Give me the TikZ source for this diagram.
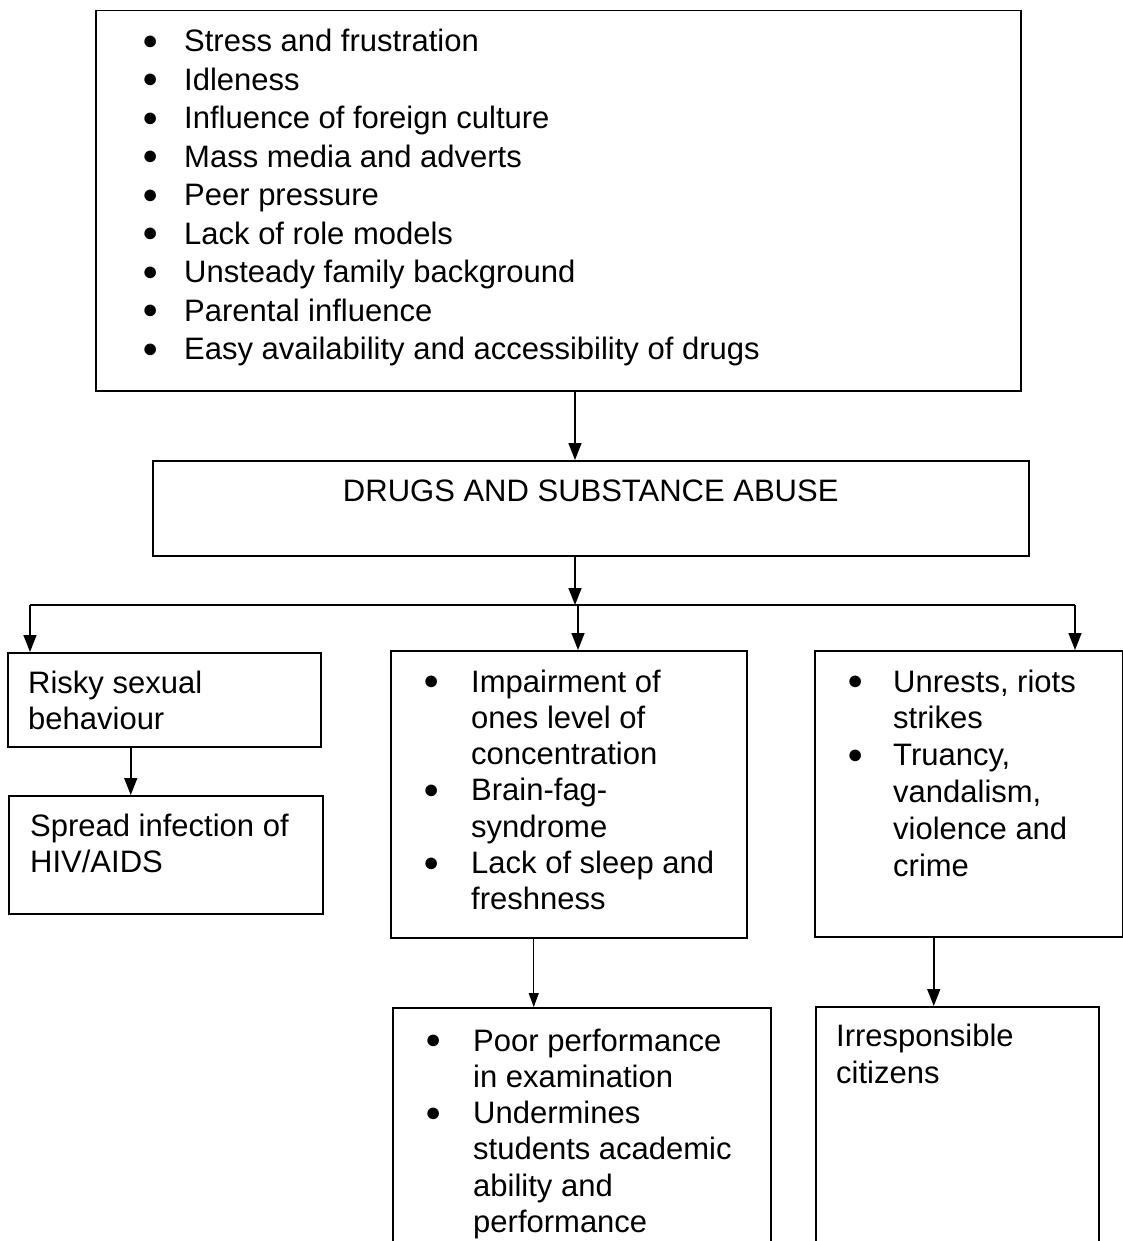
\documentclass[tikz,border=0pt]{standalone}
\usepackage{fontspec}
\setmainfont{Liberation Sans}
\usetikzlibrary{arrows.meta}

\tikzset{
  box/.style={draw, line width=1.5pt, inner sep=0pt, anchor=north west},
  arr/.style={-{Triangle[width=13pt,length=17pt]}, line width=1.5pt},
  txt/.style={inner sep=0pt, anchor=base west, align=left},
  big/.style={font=\fontsize{31}{38.5}\selectfont},
  small/.style={font=\fontsize{31}{36.3}\selectfont}
}
\newcommand{\bul}{\raisebox{2.5pt}{\fontsize{27}{27}\selectfont ●}}

\begin{document}
\begin{tikzpicture}[x=1pt,y=-1pt]
\useasboundingbox (0,0) rectangle (1123,1241);
\clip (0,0) rectangle (1123,1241);

% boxes
\node[box, minimum width=925pt, minimum height=380pt] (causes) at (95,10) {};
\node[box, minimum width=876pt, minimum height=95pt] (drugs) at (152,460) {};
\node[box, minimum width=313pt, minimum height=94pt] (risky) at (7,652) {};
\node[box, minimum width=314pt, minimum height=118pt] (hiv) at (8,795) {};
\node[box, minimum width=356pt, minimum height=287pt] (impair) at (390,650) {};
\node[box, minimum width=378pt, minimum height=260pt] (poor) at (392,1007) {};
\node[box, minimum width=308pt, minimum height=286pt] (unrest) at (814,650) {};
\node[box, minimum width=283pt, minimum height=260pt] (citizen) at (815,1006) {};

% texts
\node[txt, big] (causelist) at (142,52) {\begin{tabular}[t]{@{}p{42pt}@{}l@{}}
\bul & Stress and frustration\\
\bul & Idleness\\
\bul & Influence of foreign culture\\
\bul & Mass media and adverts\\
\bul & Peer pressure\\
\bul & Lack of role models\\
\bul & Unsteady family background\\
\bul & Parental influence\\
\bul & Easy availability and accessibility of drugs
\end{tabular}};
\node[txt, big, anchor=base] (drugstxt) at ([yshift=-41pt]drugs.north) {DRUGS AND SUBSTANCE ABUSE};
\node[txt, small] (riskytxt) at (28,693) {\begin{tabular}[t]{@{}l@{}}
Risky sexual\\
behaviour
\end{tabular}};
\node[txt, small] (hivtxt) at (30,836) {\begin{tabular}[t]{@{}l@{}}
Spread infection of\\
HIV/AIDS
\end{tabular}};
\node[txt, small] (impairtxt) at (423,692) {\begin{tabular}[t]{@{}p{48pt}@{}l@{}}
\bul & Impairment of\\
     & ones level of\\
     & concentration\\
\bul & Brain-fag-\\
     & syndrome\\
\bul & Lack of sleep and\\
     & freshness
\end{tabular}};
\node[txt, small] (poortxt) at (425,1051) {\begin{tabular}[t]{@{}p{48pt}@{}l@{}}
\bul & Poor performance\\
     & in examination\\
\bul & Undermines\\
     & students academic\\
     & ability and\\
     & performance
\end{tabular}};
\node[txt, font=\fontsize{31}{36.8}\selectfont] (unresttxt) at (847,692) {\begin{tabular}[t]{@{}p{46pt}@{}l@{}}
\bul & Unrests, riots\\
     & strikes\\
\bul & Truancy,\\
     & vandalism,\\
     & violence and\\
     & crime
\end{tabular}};
\node[txt, font=\fontsize{31}{37}\selectfont] (citizentxt) at (836,1046) {\begin{tabular}[t]{@{}l@{}}
Irresponsible\\
citizens
\end{tabular}};

% connectors
\coordinate (spine) at (575,605);
\coordinate (busL) at (30,605);
\coordinate (busM) at (578,605);
\coordinate (busR) at (1075,605);
\draw[arr] (causes.south -| spine) -- (drugs.north -| spine);
\draw[arr] (drugs.south -| spine) -- (spine);
\draw[line width=1.5pt] (busL) -- (busR);
\draw[arr] (busL) -- (busL |- risky.north);
\draw[arr] (busM) -- (busM |- impair.north);
\draw[arr] (busR) -- (busR |- unrest.north);
\draw[arr] ([xshift=-33.5pt]risky.south) -- ([xshift=-33.5pt]risky.south |- hiv.north);
\draw[-{Triangle[width=10pt,length=14pt]}, line width=1pt] ([xshift=-35pt]impair.south) -- ([xshift=-35pt]impair.south |- poor.north);
\draw[arr] ([xshift=-35pt]unrest.south) -- ([xshift=-35pt]unrest.south |- citizen.north);
\end{tikzpicture}
\end{document}
